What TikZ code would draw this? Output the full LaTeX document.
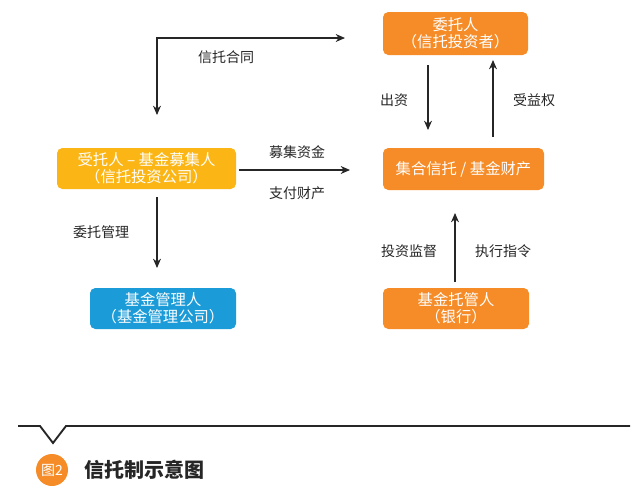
\documentclass[tikz,border=0pt]{standalone}
\usepackage{fontspec}
\setmainfont{Noto Sans CJK SC}
\usetikzlibrary{arrows.meta}
\definecolor{trustorange}{RGB}{245,140,40}
\definecolor{trustyellow}{RGB}{251,182,21}
\definecolor{trustblue}{RGB}{27,155,215}
\tikzset{every picture/.style={line width=0.75pt}}
\tikzset{
  box/.style={rounded corners=4pt,text=white,align=center,inner sep=0pt,font=\fontsize{11.5}{13}\selectfont},
  lbl/.style={font=\fontsize{10.5}{12}\selectfont,text=black!85,inner sep=0.75pt},
  flow/.style={-{Stealth[length=7pt,width=6pt]},line width=0.8pt,color=black!85}
}
\begin{document}
\begin{tikzpicture}[x=0.75pt,y=0.75pt,yscale=-1,xscale=1]
\useasboundingbox (0,0) rectangle (640,501);

%Boxes
\node (trustor) [box,fill=trustorange,minimum width=145*0.75pt,minimum height=43*0.75pt] at (455.5,33.5) {委托人\\（信托投资者）};
\node (fund) [box,fill=trustorange,minimum width=161*0.75pt,minimum height=42*0.75pt] at (463.5,169) {集合信托 / 基金财产};
\node (custodian) [box,fill=trustorange,minimum width=146*0.75pt,minimum height=41*0.75pt] at (456,308.5) {基金托管人\\（银行）};
\node (trustee) [box,fill=trustyellow,minimum width=179*0.75pt,minimum height=41*0.75pt] at (146.5,168.5) {受托人 – 基金募集人\\（信托投资公司）};
\node (manager) [box,fill=trustblue,minimum width=146*0.75pt,minimum height=41*0.75pt] at (163,308.5) {基金管理人\\（基金管理公司）};

%Connectors
\coordinate (contract) at (157,115);
\coordinate (corner) at (157,38);
\coordinate (contractEnd) at (345,38);
\draw [flow,{Stealth[length=7pt,width=6pt]}-{Stealth[length=7pt,width=6pt]}] (contract) -- (corner) -- (contractEnd);
\draw [flow] (trustee.east |- 0,170) ++(2,0) coordinate (raiseA) -- (350,170) coordinate (raiseB);
\draw [flow] (428,65) coordinate (investA) -- (428,130) coordinate (investB);
\draw [flow] (493,137) coordinate (benefitA) -- (493,60) coordinate (benefitB);
\draw [flow] (157,197) coordinate (entrustA) -- (157,268) coordinate (entrustB);
\draw [flow] (455,282) coordinate (superviseA) -- (455,213) coordinate (superviseB);

% Text Node
\node (lblContract) [lbl] at (226,57) {信托合同};
\node (lblRaise) [lbl] at (297,152) {募集资金};
\node (lblPay) [lbl] at (297,193) {支付财产};
\node (lblInvest) [lbl] at (394,100) {出资};
\node (lblBenefit) [lbl] at (534,100) {受益权};
\node (lblEntrust) [lbl] at (101,232) {委托管理};
\node (lblSupervise) [lbl] at (409,251) {投资监督};
\node (lblOrder) [lbl] at (503,251) {执行指令};

%Footer
\draw [line width=1.4pt,color=black!85] (18,426) -- (40,426) -- (53,443) -- (66,426) -- (630,426);
\node (badge) [circle,fill=trustorange,minimum size=32*0.75pt,inner sep=0pt,text=white,font=\fontsize{10.5}{12}\selectfont] at (52,470) {图2};
\node (title) [anchor=west,inner sep=0pt,font=\fontsize{15}{16}\bfseries\selectfont,text=black!85] at (84,470) {信托制示意图};
\end{tikzpicture}
\end{document}
